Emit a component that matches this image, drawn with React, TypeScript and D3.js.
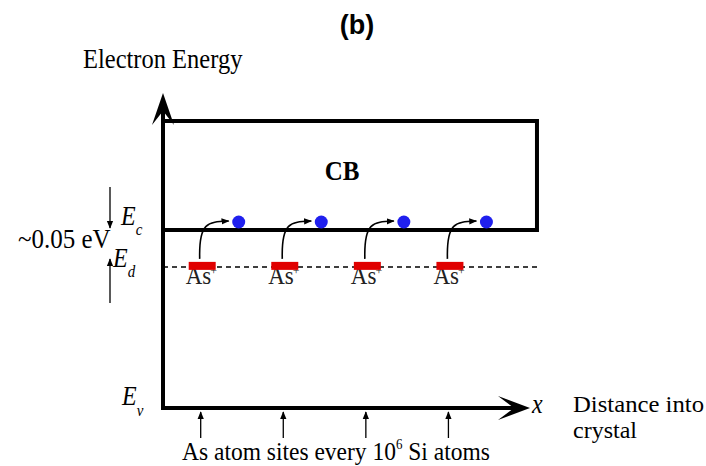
import React from "react";
import * as d3 from "d3";

// Schematic energy levels (arbitrary units, Ev = 0)
const levelNames = ["Ev", "Ed", "Ec", "CBtop", "axisTop"];
const levelValues = [0, 4.48, 5.65, 9.11, 10];
// Donor (As) sites along x (arbitrary distance units)
const donorSites = [1, 3.25, 5.5, 7.75];
const donorLabels = ["As+", "As+", "As+", "As+"];
const xAxisEnd = 10;
const bandRightEdge = 10.19;

const W = 706;
const H = 466;

export default function App() {
  const x = d3.scaleLinear().domain([0, xAxisEnd]).range([163, 530]);
  const y = d3.scaleLinear().domain([0, 10]).range([408, 93]);
  const lv = (n: string) => levelValues[levelNames.indexOf(n)];
  const yEv = y(lv("Ev"));
  const yEd = y(lv("Ed"));
  const yEc = y(lv("Ec"));
  const yTop = y(lv("CBtop"));
  const yAxisTop = y(lv("axisTop"));
  const x0 = x(0);
  const xEnd = x(xAxisEnd);
  const xRight = x(bandRightEdge);
  const serif = "'Liberation Serif', 'Times New Roman', serif";
  const st = (px: number, py: number, k = 1.1) => `translate(${px},${py}) scale(1,${k})`;

  const line = d3.line();
  return (
    <svg width={W} height={H} style={{ position: "absolute", left: 0, top: 0, background: "#fff" }}>
      <defs>
        <marker id="ahs" viewBox="0 0 10 10" refX="9" refY="5" markerWidth="8" markerHeight="8" markerUnits="userSpaceOnUse" orient="auto">
          <path d="M0,1 L10,5 L0,9 Z" fill="#000" />
        </marker>
      </defs>
      {/* Title */}
      <text x={357} y={34} textAnchor="middle" fontFamily="'Liberation Sans', Arial, sans-serif" fontWeight="bold" fontSize={27}>(b)</text>
      <text transform={st(83, 68)} fontFamily={serif} fontSize={24.5}>Electron Energy</text>

      {/* Vertical axis */}
      <path d={line([[x0, yEv + 2], [x0, yAxisTop + 12]]) as string} stroke="#000" strokeWidth={4} fill="none" />
      <path d={`M${x0},${yAxisTop} L${x0 + 11},${yAxisTop + 32} L${x0},${yAxisTop + 18} L${x0 - 11},${yAxisTop + 32} Z`} fill="#000" />

      {/* Horizontal axis */}
      <path d={line([[x0 - 2, yEv], [xEnd - 14, yEv]]) as string} stroke="#000" strokeWidth={4} fill="none" />
      <path d={`M${xEnd},${yEv} L${xEnd - 32},${yEv - 12} L${xEnd - 16},${yEv} L${xEnd - 32},${yEv + 12} Z`} fill="#000" />
      <text transform={st(xEnd + 2, yEv + 5)} fontFamily={serif} fontStyle="italic" fontSize={24}>x</text>

      {/* Conduction band box */}
      <path d={line([[x0, yTop], [xRight, yTop], [xRight, yEc], [x0, yEc]]) as string} stroke="#000" strokeWidth={4} fill="none" strokeLinejoin="miter" />
      <text transform={st(342, 180)} textAnchor="middle" fontFamily={serif} fontWeight="bold" fontSize={25}>CB</text>

      {/* Donor level dashed line */}
      <line x1={x0} x2={x(10.27)} y1={yEd} y2={yEd} stroke="#000" strokeWidth={1.5} strokeDasharray="5,4" />

      {donorSites.map((s, i) => {
        const sx = x(s);
        return (
          <g key={i}>
            <path d={`M${sx},${yEd - 8} C${sx - 1},${yEc - 8} ${sx + 8},${yEc - 8} ${sx + 29},${yEc - 9}`} stroke="#000" strokeWidth={1.6} fill="none" markerEnd="url(#ahs)" />
            <circle cx={sx + 39} cy={yEc - 8} r={6.5} fill="#2020ee" />
            <text transform={st(sx - 14, yEd + 17)} fontFamily={serif} fontSize={23} fill="#222">
              {donorLabels[i].slice(0, 2)}
              <tspan fontSize={12} dy={-8} dx={-1}>{donorLabels[i].slice(2)}</tspan>
            </text>
            <rect x={sx - 11} y={yEd - 5} width={27} height={8} fill="#e00000" />
            {/* site arrow below axis */}
            <line x1={sx + 1} x2={sx + 1} y1={yEv + 30} y2={yEv + 4} stroke="#000" strokeWidth={1.3} markerEnd="url(#ahs)" />
          </g>
        );
      })}

      <text transform={st(182, 460)} fontFamily={serif} fontSize={23.5}>
        As atom sites every 10<tspan fontSize={13} dy={-10}>6</tspan><tspan dy={10}> Si atoms</tspan>
      </text>

      <text x={573} y={412} fontFamily={serif} fontSize={23} textLength={131} lengthAdjust="spacingAndGlyphs">Distance into</text>
      <text x={573} y={438} fontFamily={serif} fontSize={23} textLength={64} lengthAdjust="spacingAndGlyphs">crystal</text>

      {/* Energy labels */}
      <text transform={st(121, 225)} fontFamily={serif} fontStyle="italic" fontSize={24}>E<tspan fontSize={15} dy={9}>c</tspan></text>
      <text transform={st(113, 267)} fontFamily={serif} fontStyle="italic" fontSize={24}>E<tspan fontSize={15} dy={9}>d</tspan></text>
      <text transform={st(122, 405)} fontFamily={serif} fontStyle="italic" fontSize={24}>E<tspan fontSize={15} dy={10}>v</tspan></text>
      <text transform={st(18, 248)} fontFamily={serif} fontSize={25}>~0.05 eV</text>

      {/* 0.05 eV arrows */}
      <line x1={110} x2={110} y1={187} y2={228} stroke="#000" strokeWidth={1.3} markerEnd="url(#ahs)" />
      <line x1={110} x2={110} y1={303} y2={259} stroke="#000" strokeWidth={1.3} markerEnd="url(#ahs)" />
    </svg>
  );
}
